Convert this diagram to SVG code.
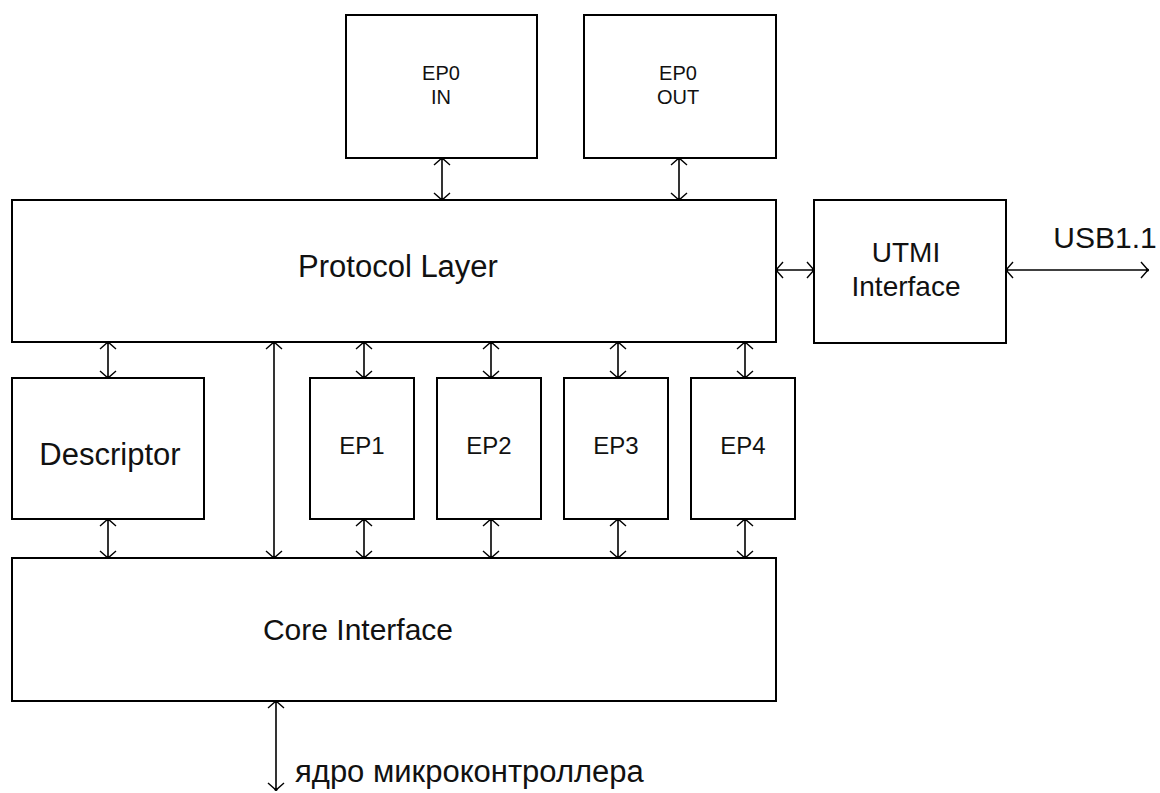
<svg xmlns="http://www.w3.org/2000/svg" width="1160" height="793" viewBox="0 0 1160 793">
<style>
.box{fill:#fff;stroke:#000;stroke-width:2}
.lbl{font-family:"Liberation Sans",Arial,sans-serif;fill:#111;text-anchor:middle}
.big{font-size:31px}
.mid{font-size:28px}
.ep{font-size:24px}
.sm{font-size:20px}
.con{stroke:#000;stroke-width:1.6;fill:none;marker-start:url(#ah);marker-end:url(#ah)}
</style>
<defs>
<marker id="ah" viewBox="-9 -9 18 18" markerWidth="18" markerHeight="18" refX="0" refY="0" orient="auto-start-reverse" markerUnits="userSpaceOnUse">
<path d="M-7,-8 L0,0 L-7,8" fill="none" stroke="#000" stroke-width="1.4"/>
<circle cx="-0.5" cy="0" r="1.6" fill="#000"/>
</marker>
</defs>
<rect width="1160" height="793" fill="#fff"/>
<g id="connectors">
<line class="con" x1="442" y1="158" x2="442" y2="200"/>
<line class="con" x1="679" y1="158" x2="679" y2="200"/>
<line class="con" x1="776" y1="270" x2="814" y2="270"/>
<line class="con" x1="1006" y1="270" x2="1148" y2="270"/>
<line class="con" x1="108" y1="342" x2="108" y2="378"/>
<line class="con" x1="108" y1="519" x2="108" y2="558"/>
<line class="con" x1="274" y1="342" x2="274" y2="558"/>
<line class="con" x1="364" y1="342" x2="364" y2="378"/>
<line class="con" x1="364" y1="519" x2="364" y2="558"/>
<line class="con" x1="491" y1="342" x2="491" y2="378"/>
<line class="con" x1="491" y1="519" x2="491" y2="558"/>
<line class="con" x1="618" y1="342" x2="618" y2="378"/>
<line class="con" x1="618" y1="519" x2="618" y2="558"/>
<line class="con" x1="745" y1="342" x2="745" y2="378"/>
<line class="con" x1="745" y1="519" x2="745" y2="558"/>
<line class="con" x1="276" y1="701" x2="276" y2="790"/>
</g>
<g id="ep0in"><rect class="box" x="346" y="15" width="191" height="143"/>
<text class="lbl sm" x="441" y="80">EP0</text><text class="lbl sm" x="441" y="104">IN</text></g>
<g id="ep0out"><rect class="box" x="584" y="15" width="192" height="143"/>
<text class="lbl sm" x="678" y="80">EP0</text><text class="lbl sm" x="678" y="104">OUT</text></g>
<g id="protocol"><rect class="box" x="12" y="200" width="764" height="142"/>
<text class="lbl big" x="398" y="277">Protocol Layer</text></g>
<g id="utmi"><rect class="box" x="814" y="200" width="192" height="143"/>
<text class="lbl mid" x="906" y="262">UTMI</text><text class="lbl mid" x="906" y="296">Interface</text></g>
<g id="usb"><text class="lbl" style="font-size:30px" x="1105" y="248">USB1.1</text></g>
<g id="descriptor"><rect class="box" x="12" y="378" width="192" height="141"/>
<text class="lbl big" x="110" y="465">Descriptor</text></g>
<g id="ep1"><rect class="box" x="310" y="378" width="104" height="141"/>
<text class="lbl ep" x="362" y="454">EP1</text></g>
<g id="ep2"><rect class="box" x="437" y="378" width="104" height="141"/>
<text class="lbl ep" x="489" y="454">EP2</text></g>
<g id="ep3"><rect class="box" x="564" y="378" width="104" height="141"/>
<text class="lbl ep" x="616" y="454">EP3</text></g>
<g id="ep4"><rect class="box" x="691" y="378" width="104" height="141"/>
<text class="lbl ep" x="743" y="454">EP4</text></g>
<g id="core"><rect class="box" x="12" y="558" width="764" height="143"/>
<text class="lbl big" style="font-size:30px" x="358" y="640">Core Interface</text></g>
<g id="mcu"><text class="lbl" x="295" y="782" style="text-anchor:start;font-size:31px">ядро микроконтроллера</text></g>
</svg>
